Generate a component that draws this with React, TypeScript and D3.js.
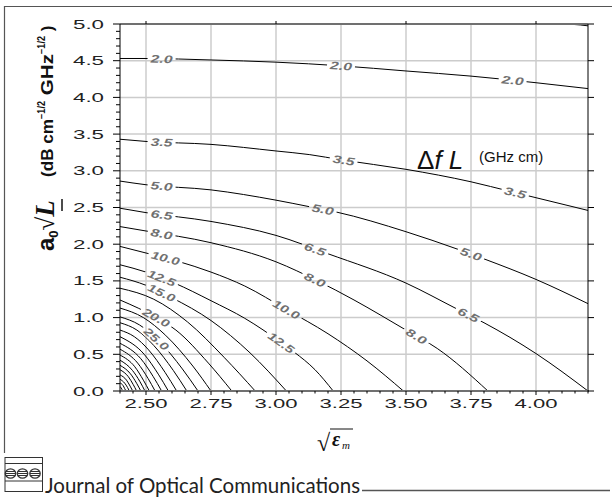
import * as d3 from "d3";

// axis ticks
const xTicks = [2.5, 2.75, 3.0, 3.25, 3.5, 3.75, 4.0];
const xTickLabels = ["2.50", "2.75", "3.00", "3.25", "3.50", "3.75", "4.00"];
const yTicks = [0, 0.5, 1, 1.5, 2, 2.5, 3, 3.5, 4, 4.5, 5];
const yTickLabels = ["0.0", "0.5", "1.0", "1.5", "2.0", "2.5", "3.0", "3.5", "4.0", "4.5", "5.0"];

// contour lines of Δf·L: [sqrt(eps_m), a0*sqrt(L)]
const lv0_5 = [[4.07, 5.0], [4.14, 4.995], [4.2, 4.975]];
const lv2_0 = [[2.4, 4.53], [2.5, 4.53], [2.75, 4.51], [3.0, 4.48], [3.25, 4.43], [3.5, 4.36], [3.75, 4.29], [4.0, 4.2], [4.2, 4.12]];
const lv3_5 = [[2.4, 3.43], [2.5, 3.4], [2.75, 3.36], [3.0, 3.27], [3.13, 3.22], [3.25, 3.15], [3.5, 3.02], [3.75, 2.85], [3.9, 2.72], [4.2, 2.46]];
const lv5_0 = [[2.4, 2.86], [2.5, 2.81], [2.75, 2.74], [3.0, 2.6], [3.13, 2.51], [3.23, 2.44], [3.5, 2.17], [3.7, 1.93], [3.8, 1.8], [4.0, 1.52], [4.2, 1.19]];
const lv6_5 = [[2.4, 2.49], [2.5, 2.43], [2.75, 2.31], [3.0, 2.12], [3.2, 1.87], [3.5, 1.47], [3.7, 1.11], [3.8, 0.93], [4.0, 0.51], [4.2, 0.0]];
const lv8_0 = [[2.4, 2.24], [2.5, 2.18], [2.75, 2.02], [3.0, 1.76], [3.16, 1.5], [3.3, 1.24], [3.5, 0.83], [3.62, 0.58], [3.815, 0]];
const lv10_0 = [[2.4, 1.97], [2.5, 1.88], [2.62, 1.77], [2.75, 1.62], [2.88, 1.43], [3.04, 1.11], [3.2, 0.78], [3.35, 0.41], [3.49, 0]];
const lv12_5 = [[2.4, 1.72], [2.5, 1.62], [2.61, 1.47], [2.75, 1.23], [2.88, 0.99], [3.02, 0.66], [3.07, 0.53], [3.15, 0.29], [3.22, 0]];
const lv15_0 = [[2.4, 1.55], [2.5, 1.44], [2.6, 1.27], [2.75, 0.96], [2.9, 0.52], [3.04, 0]];
const lv17_5 = [[2.4, 1.4], [2.53, 1.25], [2.66, 0.94], [2.8, 0.46], [2.92, 0]];
const lv20_0 = [[2.4, 1.24], [2.54, 1.0], [2.615, 0.83], [2.74, 0.38], [2.83, 0]];
const lv22_5 = [[2.4, 1.13], [2.49, 1.0], [2.575, 0.76], [2.68, 0.34], [2.75, 0]];
const lv25_0 = [[2.4, 1.01], [2.475, 0.9], [2.55, 0.68], [2.64, 0.3], [2.7, 0]];
const lv27_5 = [[2.4, 0.93], [2.465, 0.83], [2.53, 0.62], [2.605, 0.28], [2.657, 0]];
const lv30_0 = [[2.4, 0.83], [2.455, 0.74], [2.51, 0.56], [2.574, 0.25], [2.618, 0]];
const lv32_5 = [[2.4, 0.74], [2.493, 0.5], [2.549, 0.22], [2.586, 0]];
const lv35_0 = [[2.4, 0.65], [2.48, 0.44], [2.528, 0.195], [2.56, 0]];
const lv37_5 = [[2.4, 0.57], [2.468, 0.38], [2.508, 0.17], [2.535, 0]];
const lv40_0 = [[2.4, 0.49], [2.457, 0.33], [2.49, 0.147], [2.513, 0]];
const lv42_5 = [[2.4, 0.42], [2.448, 0.28], [2.477, 0.126], [2.496, 0]];
const lv45_0 = [[2.4, 0.35], [2.44, 0.235], [2.464, 0.105], [2.48, 0]];
const lv47_5 = [[2.4, 0.29], [2.432, 0.195], [2.451, 0.087], [2.464, 0]];
const lv50_0 = [[2.4, 0.22], [2.425, 0.148], [2.439, 0.066], [2.449, 0]];
const lv52_5 = [[2.4, 0.16], [2.418, 0.107], [2.429, 0.048], [2.436, 0]];
const lv55_0 = [[2.4, 0.11], [2.412, 0.074], [2.418, 0.033], [2.423, 0]];
const lv57_5 = [[2.4, 0.06], [2.405, 0.04], [2.41, 0]];

// where the inline labels sit (x positions along each line)
const lab2_0 = [2.56, 3.25, 3.91];
const lab3_5 = [2.56, 3.26, 3.92];
const lab5_0 = [2.56, 3.18, 3.75];
const lab6_5 = [2.56, 3.15, 3.74];
const lab8_0 = [2.56, 3.15, 3.54];
const lab10_0 = [2.575, 3.04];
const lab12_5 = [2.56, 3.02];
const lab15_0 = [2.56];
const lab20_0 = [2.54];
const lab25_0 = [2.54];

const contours = [
  { level: "0.5", pts: lv0_5, labels: [] },
  { level: "2.0", pts: lv2_0, labels: lab2_0 },
  { level: "3.5", pts: lv3_5, labels: lab3_5 },
  { level: "5.0", pts: lv5_0, labels: lab5_0 },
  { level: "6.5", pts: lv6_5, labels: lab6_5 },
  { level: "8.0", pts: lv8_0, labels: lab8_0 },
  { level: "10.0", pts: lv10_0, labels: lab10_0 },
  { level: "12.5", pts: lv12_5, labels: lab12_5 },
  { level: "15.0", pts: lv15_0, labels: lab15_0 },
  { level: "17.5", pts: lv17_5, labels: [] },
  { level: "20.0", pts: lv20_0, labels: lab20_0 },
  { level: "22.5", pts: lv22_5, labels: [] },
  { level: "25.0", pts: lv25_0, labels: lab25_0 },
  { level: "27.5", pts: lv27_5, labels: [] },
  { level: "30.0", pts: lv30_0, labels: [] },
  { level: "32.5", pts: lv32_5, labels: [] },
  { level: "35.0", pts: lv35_0, labels: [] },
  { level: "37.5", pts: lv37_5, labels: [] },
  { level: "40.0", pts: lv40_0, labels: [] },
  { level: "42.5", pts: lv42_5, labels: [] },
  { level: "45.0", pts: lv45_0, labels: [] },
  { level: "47.5", pts: lv47_5, labels: [] },
  { level: "50.0", pts: lv50_0, labels: [] },
  { level: "52.5", pts: lv52_5, labels: [] },
  { level: "55.0", pts: lv55_0, labels: [] },
  { level: "57.5", pts: lv57_5, labels: [] },
];

function interp(pts: number[][], xv: number) {
  for (let i = 1; i < pts.length; i++) {
    if (xv <= pts[i][0]) {
      const t = (xv - pts[i - 1][0]) / (pts[i][0] - pts[i - 1][0]);
      return pts[i - 1][1] + t * (pts[i][1] - pts[i - 1][1]);
    }
  }
  return pts[pts.length - 1][1];
}

export default function App() {
  const W = 612, H = 499;
  const left = 120, right = 588, top = 24, bottom = 391;
  const x = d3.scaleLinear().domain([2.4, 4.2]).range([left, right]);
  const y = d3.scaleLinear().domain([0, 5]).range([bottom, top]);
  const line = d3.line<number[]>().x(d => x(d[0])).y(d => y(d[1])).curve(d3.curveMonotoneX);

  const labels: any[] = [];
  contours.forEach(c => {
    c.labels.forEach((lx: number) => {
      const dx = 0.015;
      const a = Math.atan2(
        y(interp(c.pts, lx + dx)) - y(interp(c.pts, lx - dx)),
        x(lx + dx) - x(lx - dx)
      ) * 180 / Math.PI;
      labels.push({ px: x(lx), py: y(interp(c.pts, lx)), a, text: c.level, w: c.level.length > 3 ? 29 : 22 });
    });
  });

  const xMinor = d3.range(2.4, 4.2001, 0.05).filter(v => !xTicks.some(t => Math.abs(t - v) < 1e-6));
  const yMinor = d3.range(0, 5.0001, 0.1).filter(v => !yTicks.some(t => Math.abs(t - v) < 1e-6));

  return (
    <svg width={W} height={H} style={{ position: "absolute", left: 0, top: 0, background: "#fff" }}
      fontFamily="'Liberation Sans', Arial, sans-serif">
      <defs>
        <clipPath id="plot">
          <rect x={left} y={top} width={right - left} height={bottom - top} />
        </clipPath>
        <mask id="lblmask" maskUnits="userSpaceOnUse" x={0} y={0} width={W} height={H}>
          <rect x={0} y={0} width={W} height={H} fill="#fff" />
          {labels.map((l, i) => (
            <rect key={i} x={-l.w / 2 - 3} y={-5.5} width={l.w + 6} height={11} fill="#000"
              transform={`translate(${l.px},${l.py}) rotate(${l.a})`} />
          ))}
        </mask>
      </defs>

      {/* frame */}
      <line x1={4.5} x2={4.5} y1={6} y2={453} stroke="#555" strokeWidth={1.2} />
      <line x1={4} x2={612} y1={6.5} y2={6.5} stroke="#555" strokeWidth={1.2} />

      {/* grid */}
      <g stroke="#cccccc" strokeWidth={1.5}>
        {xTicks.map(t => <line key={t} x1={x(t)} x2={x(t)} y1={top} y2={bottom} />)}
        {yTicks.filter(t => t > 0 && t < 5).map(t => <line key={t} x1={left} x2={right} y1={y(t)} y2={y(t)} />)}
      </g>

      {/* contours */}
      <g clipPath="url(#plot)">
        <g mask="url(#lblmask)" fill="none" stroke="#000" strokeWidth={1}>
          {contours.map(c => <path key={c.level} d={line(c.pts as any) || ""} />)}
        </g>
      </g>
      {labels.map((l, i) => (
        <text key={i} transform={`translate(${l.px},${l.py}) rotate(${l.a})`} textAnchor="middle" dy={4}
          fontSize={11} fontWeight="bold" fontStyle="italic" fill="#707070"
          textLength={l.w} lengthAdjust="spacingAndGlyphs">{l.text}</text>
      ))}

      {/* axes */}
      <line x1={left} x2={right} y1={top} y2={top} stroke="#707070" strokeWidth={2} />
      <line x1={left} x2={right + 1} y1={bottom} y2={bottom} stroke="#707070" strokeWidth={2} />
      <line x1={left} x2={left} y1={top} y2={bottom} stroke="#000" strokeWidth={1} />
      <line x1={right} x2={right} y1={top} y2={bottom} stroke="#000" strokeWidth={1} />
      <g stroke="#000" strokeWidth={1}>
        {yTicks.map(t => <line key={"ym" + t} x1={left - 7} x2={left} y1={y(t)} y2={y(t)} />)}
        {yMinor.map(t => <line key={"yn" + t} x1={left - 4} x2={left} y1={y(t)} y2={y(t)} />)}
        {yTicks.map(t => <line key={"yr" + t} x1={right} x2={right + 6} y1={y(t)} y2={y(t)} />)}
        {xTicks.map(t => <line key={"xm" + t} x1={x(t)} x2={x(t)} y1={bottom} y2={bottom + 4} />)}
        {xMinor.map(t => <line key={"xn" + t} x1={x(t)} x2={x(t)} y1={bottom} y2={bottom + 2.5} />)}
        {[2.5, 3.0, 3.5, 4.0].map(t => <line key={"xt" + t} x1={x(t)} x2={x(t)} y1={top - 3} y2={top} />)}
      </g>

      {/* tick labels */}
      {yTicks.map((t, i) => (
        <text key={"yl" + t} x={104} y={y(t) + 4.5} textAnchor="end" fontSize={13} fill="#222"
          textLength={31} lengthAdjust="spacingAndGlyphs">{yTickLabels[i]}</text>
      ))}
      {xTicks.map((t, i) => (
        <text key={"xl" + t} x={x(t)} y={408} textAnchor="middle" fontSize={13} fill="#222"
          textLength={43} lengthAdjust="spacingAndGlyphs">{xTickLabels[i]}</text>
      ))}

      {/* y axis title */}
      <text transform="translate(54,251) rotate(-90)" fill="#111">
        <tspan fontSize={24} fontWeight="bold">a</tspan>
        <tspan fontSize={13} fontWeight="bold" dy={4}>0</tspan>
        <tspan fontSize={25} fontFamily="'Liberation Serif', serif" dy={-4}>√</tspan>
        <tspan fontSize={27} fontFamily="'Liberation Serif', serif" fontStyle="italic" fontWeight="bold">L</tspan>
      </text>
      <line x1={62} x2={62} y1={199} y2={211} stroke="#111" strokeWidth={1.5} />
      <text transform="translate(53,177) rotate(-90)" fill="#111" fontWeight="bold" fontSize={17}
        lengthAdjust="spacingAndGlyphs">
        <tspan textLength={58} lengthAdjust="spacingAndGlyphs">(dB cm</tspan>
        <tspan fontSize={10} dy={-8} textLength={18} lengthAdjust="spacingAndGlyphs">−1/2</tspan>
        <tspan dy={8} textLength={47} lengthAdjust="spacingAndGlyphs"> GHz</tspan>
        <tspan fontSize={10} dy={-8} textLength={18} lengthAdjust="spacingAndGlyphs">−1/2</tspan>
        <tspan dy={8}> )</tspan>
      </text>

      {/* x axis title */}
      <text x={317} y={451} fontFamily="'Liberation Serif', serif" fontSize={24} fill="#111">√</text>
      <line x1={330} x2={353} y1={429} y2={429} stroke="#111" strokeWidth={1} />
      <text x={332} y={446} fontFamily="'Liberation Serif', serif" fontSize={20} fontStyle="italic" fontWeight="bold" fill="#111">ε</text>
      <text x={342} y={449} fontFamily="'Liberation Serif', serif" fontSize={11} fontStyle="italic" fill="#111">m</text>

      {/* contour quantity */}
      <text x={417} y={169} fontSize={26} fill="#111">
        <tspan>Δ</tspan>
        <tspan fontStyle="italic">f L</tspan>
      </text>
      <text x={479} y={162} fontSize={15} fill="#111">(GHz cm)</text>

      {/* journal footer */}
      <g stroke="#333" fill="none" strokeWidth={1}>
        <rect x={5} y={457.5} width={37.5} height={34} />
        <line x1={5} x2={42.5} y1={463.5} y2={463.5} />
        <line x1={5} x2={42.5} y1={481} y2={481} />
        {[10.5, 22.5, 35].map(cx => (
          <g key={cx}>
            <ellipse cx={cx} cy={473.5} rx={5.2} ry={4.6} strokeWidth={1.3} />
            <line x1={cx - 4.5} x2={cx + 4.5} y1={471.5} y2={471.5} />
            <line x1={cx - 5} x2={cx + 5} y1={473.5} y2={473.5} />
            <line x1={cx - 4.5} x2={cx + 4.5} y1={475.5} y2={475.5} />
          </g>
        ))}
      </g>
      <text x={45} y={493} fontFamily="Lato, 'Noto Sans', sans-serif" fontSize={21} fill="#222"
        textLength={315} lengthAdjust="spacingAndGlyphs">Journal of Optical Communications</text>
      <line x1={362} x2={610} y1={490.5} y2={490.5} stroke="#555" strokeWidth={1.5} />
    </svg>
  );
}
